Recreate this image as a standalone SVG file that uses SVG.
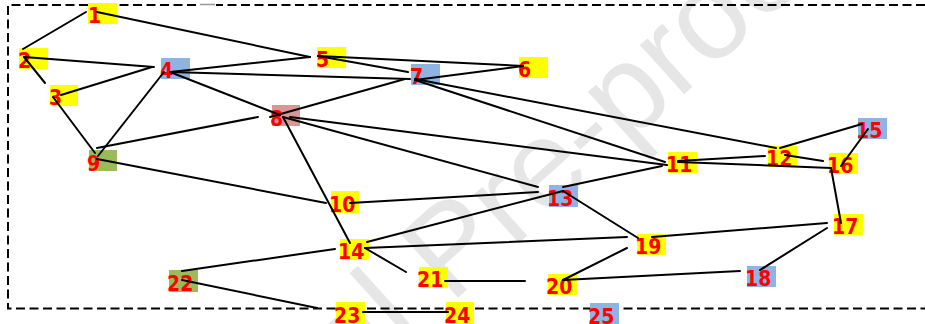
<svg xmlns="http://www.w3.org/2000/svg" width="925" height="324" viewBox="0 0 925 324">
<style>
.y{fill:#FFFF00}
.bl{fill:#8EB4E3}
.pk{fill:#D99694}
.gr{fill:#9BBB59}
.t{font-family:"DejaVu Sans Condensed","DejaVu Sans","Liberation Sans",sans-serif;font-weight:bold;font-size:21px;fill:#FF0000}
.e line{stroke:#000;stroke-width:2;stroke-linecap:round}
.frame{stroke:#000;stroke-width:2;stroke-dasharray:9 4.5;fill:none}
.wm{font-family:"Liberation Sans",Arial,sans-serif;font-size:125px;fill:#e6e6e6}
</style>
<rect width="925" height="324" fill="#fff"/>
<text class="wm" transform="translate(120,602) rotate(-42)">Journal Pre-proof</text>
<g id="frame">
<path class="frame" d="M925,5 H8 V308.5 H925"/>
<line x1="199" y1="5" x2="216" y2="5" stroke="#fff" stroke-width="3"/>
<line x1="200" y1="4.5" x2="215" y2="4.5" stroke="#999" stroke-width="1.5"/>
</g>
<g id="n1"><rect class="y" x="88" y="3" width="29" height="21"/><text class="t" x="88" y="23">1</text></g>
<g id="n2"><rect class="y" x="19" y="48" width="29" height="21"/><text class="t" x="18" y="68">2</text></g>
<g id="n3"><rect class="y" x="50" y="85" width="28" height="21"/><text class="t" x="49" y="105">3</text></g>
<g id="n4"><rect class="bl" x="161" y="58" width="29" height="21"/><text class="t" x="160" y="78">4</text></g>
<g id="n5"><rect class="y" x="317" y="47" width="29" height="21"/><text class="t" x="316" y="67">5</text></g>
<g id="n6"><rect class="y" x="519" y="57" width="29" height="21"/><text class="t" x="518" y="77">6</text></g>
<g id="n7"><rect class="bl" x="411" y="64" width="29" height="21"/><text class="t" x="410" y="84">7</text></g>
<g id="n8"><rect class="pk" x="272" y="105" width="28" height="21"/><text class="t" x="270" y="126">8</text></g>
<g id="n9"><rect class="gr" x="89" y="150" width="28" height="21"/><text class="t" x="87" y="171">9</text></g>
<g id="n10"><rect class="y" x="331" y="191" width="28" height="22"/><text class="t" x="329" y="212">10</text></g>
<g id="n11"><rect class="y" x="668" y="152" width="29" height="21"/><text class="t" x="666" y="172">11</text></g>
<g id="n12"><rect class="y" x="768" y="146" width="29" height="21"/><text class="t" x="766" y="166">12</text></g>
<g id="n13"><rect class="bl" x="549" y="185" width="29" height="22"/><text class="t" x="547" y="206">13</text></g>
<g id="n14"><rect class="y" x="340" y="239" width="29" height="21"/><text class="t" x="338" y="259">14</text></g>
<g id="n15"><rect class="bl" x="858" y="118" width="29" height="21"/><text class="t" x="856" y="138">15</text></g>
<g id="n16"><rect class="y" x="829" y="153" width="29" height="21"/><text class="t" x="827" y="173">16</text></g>
<g id="n17"><rect class="y" x="834" y="214" width="29" height="21"/><text class="t" x="832" y="234">17</text></g>
<g id="n18"><rect class="bl" x="747" y="266" width="29" height="21"/><text class="t" x="745" y="286">18</text></g>
<g id="n19"><rect class="y" x="637" y="234" width="29" height="21"/><text class="t" x="635" y="254">19</text></g>
<g id="n20"><rect class="y" x="548" y="274" width="29" height="21"/><text class="t" x="546" y="294">20</text></g>
<g id="n21"><rect class="y" x="419" y="267" width="29" height="21"/><text class="t" x="417" y="287">21</text></g>
<g id="n22"><rect class="gr" x="169" y="270" width="29" height="22"/><text class="t" x="167" y="291">22</text></g>
<g id="n23"><rect class="y" x="336" y="302" width="29" height="22"/><text class="t" x="334" y="323">23</text></g>
<g id="n24"><rect class="y" x="446" y="302" width="28" height="22"/><text class="t" x="444" y="323">24</text></g>
<g id="n25"><rect class="bl" x="590" y="303" width="29" height="21"/><text class="t" x="588" y="324">25</text></g>
<g id="edges" class="e">
<line x1="86" y1="12" x2="23" y2="49"/>
<line x1="97" y1="12" x2="310" y2="57"/>
<line x1="24" y1="57" x2="45" y2="83"/>
<line x1="24" y1="57" x2="154" y2="67"/>
<line x1="61" y1="95" x2="152" y2="67"/>
<line x1="53" y1="97" x2="95" y2="153"/>
<line x1="170" y1="72" x2="310" y2="57"/>
<line x1="170" y1="72" x2="410" y2="79"/>
<line x1="170" y1="72" x2="280" y2="115"/>
<line x1="164" y1="72" x2="98" y2="156"/>
<line x1="318" y1="56" x2="523" y2="66"/>
<line x1="318" y1="56" x2="408" y2="72"/>
<line x1="415" y1="80" x2="523" y2="66"/>
<line x1="405" y1="79" x2="270" y2="117"/>
<line x1="415" y1="80" x2="665" y2="162"/>
<line x1="415" y1="79" x2="776" y2="148"/>
<line x1="258" y1="117" x2="97" y2="148"/>
<line x1="290" y1="117" x2="667" y2="165"/>
<line x1="283" y1="117" x2="538" y2="187"/>
<line x1="283" y1="117" x2="350" y2="243"/>
<line x1="97" y1="159" x2="326" y2="203"/>
<line x1="350" y1="203" x2="538" y2="192"/>
<line x1="678" y1="161" x2="765" y2="156"/>
<line x1="678" y1="162" x2="831" y2="168"/>
<line x1="662" y1="166" x2="563" y2="187"/>
<line x1="780" y1="148" x2="862" y2="124"/>
<line x1="785" y1="155" x2="823" y2="161"/>
<line x1="868" y1="129" x2="841" y2="166"/>
<line x1="831" y1="168" x2="841" y2="223"/>
<line x1="827" y1="223" x2="652" y2="237"/>
<line x1="827" y1="228" x2="760" y2="270"/>
<line x1="563" y1="191" x2="638" y2="238"/>
<line x1="367" y1="242" x2="563" y2="191"/>
<line x1="365" y1="248" x2="627" y2="237"/>
<line x1="365" y1="248" x2="406" y2="272"/>
<line x1="335" y1="249" x2="182" y2="271"/>
<line x1="627" y1="248" x2="563" y2="280"/>
<line x1="563" y1="280" x2="740" y2="271"/>
<line x1="445" y1="281" x2="525" y2="281"/>
<line x1="182" y1="280" x2="317" y2="308"/>
<line x1="363" y1="312" x2="448" y2="312"/>
</g>
</svg>
